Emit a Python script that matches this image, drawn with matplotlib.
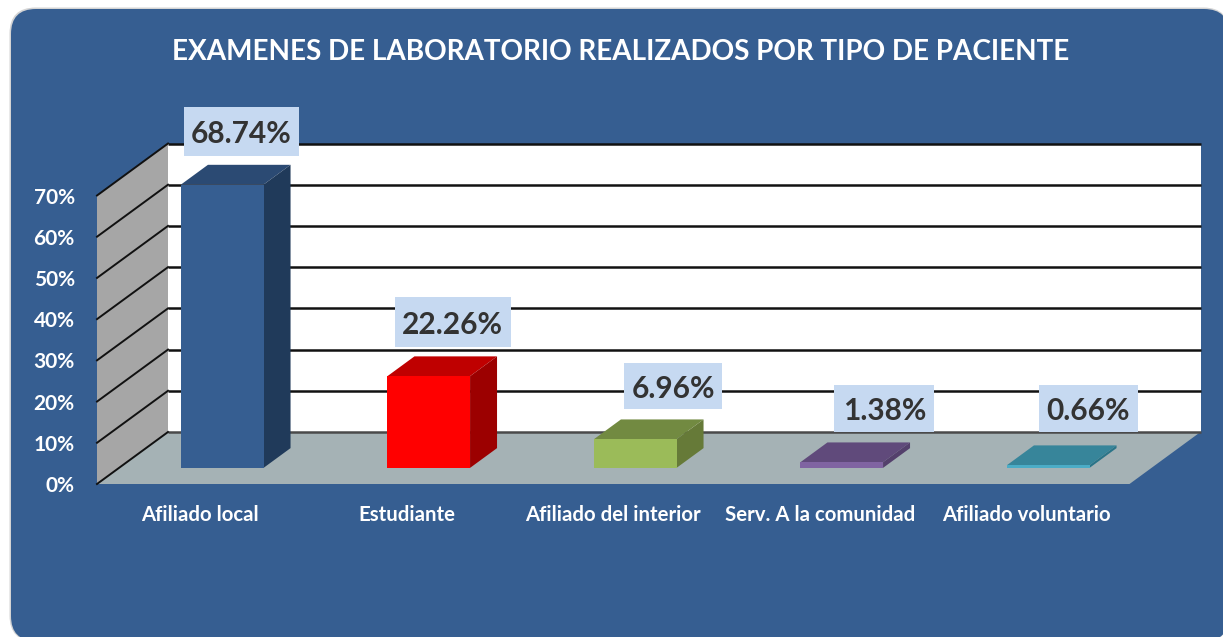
import matplotlib
matplotlib.use("Agg")
import matplotlib.pyplot as plt
from matplotlib.patches import FancyBboxPatch, Polygon, Rectangle
from matplotlib.transforms import IdentityTransform

categories = ["Afiliado local", "Estudiante", "Afiliado del interior",
              "Serv. A la comunidad", "Afiliado voluntario"]
values = [68.74, 22.26, 6.96, 1.38, 0.66]
value_labels = ["68.74%", "22.26%", "6.96%", "1.38%", "0.66%"]
y_ticks = [0, 10, 20, 30, 40, 50, 60, 70]
y_tick_labels = ["0%", "10%", "20%", "30%", "40%", "50%", "60%", "70%"]
title = "EXAMENES DE LABORATORIO REALIZADOS POR TIPO DE PACIENTE"

# style: (front, top, side)
bar_colors = [("#365E91", "#2B4A73", "#203A5A"),
              ("#FF0000", "#BF0000", "#9C0000"),
              ("#9BBB59", "#728A41", "#667A38"),
              ("#8064A2", "#604A7B", "#54406C"),
              ("#4BACC6", "#37859A", "#2A7488")]
label_offsets_px = [(19, 53), (24, 54), (38, 53), (42.5, 54), (40, 57)]
label_box_sizes = [(115, 49), (116, 50), (98, 46), (100, 47), (99, 47)]

W, H = 1223, 637
plt.rcParams["font.family"] = ["Lato", "DejaVu Sans"]
fig = plt.figure(figsize=(W / 100, H / 100), dpi=100, facecolor="white")

# background panel in pixel space
bg = fig.add_axes([0, 0, 1, 1], zorder=0)
bg.set_xlim(0, W); bg.set_ylim(H, 0); bg.axis("off")
bg.add_patch(FancyBboxPatch((9.5 + 26, 7.5 + 26), 1220 - 52, 634 - 52,
                            boxstyle="round,pad=26,rounding_size=26", fc="#D4D4D4", ec="none"))
bg.add_patch(FancyBboxPatch((11 + 25, 9 + 25), 1218 - 50, 632 - 50,
                            boxstyle="round,pad=25,rounding_size=25", fc="#365E91", ec="none"))

# plot axes: front plane of the 3D box
x0, x1, y0, y70 = 97, 1129.5, 484, 195.5
ax = fig.add_axes([x0 / W, 1 - y0 / H, (x1 - x0) / W, (y0 - y70) / H], zorder=1)
ax.set_xlim(0, 5); ax.set_ylim(0, 70)
ax.patch.set_alpha(0)
for s in ax.spines.values():
    s.set_visible(False)

DX = 71 / ((x1 - x0) / 5)          # depth in category units
DY = 52 / ((y0 - y70) / 70)        # depth in percent units
def proj(x, v, d):
    return (x + d * DX, v + d * DY)

kw = dict(clip_on=False, lw=0)
# walls
ax.add_patch(Polygon([proj(0, 0, 1), proj(5, 0, 1), proj(5, 70, 1), proj(0, 70, 1)], fc="white", zorder=1, **kw))
ax.add_patch(Polygon([proj(0, 0, 0), proj(0, 0, 1), proj(0, 70, 1), proj(0, 70, 0)], fc="#A6A6A6", zorder=1, **kw))
ax.add_patch(Polygon([proj(0, 0, 0), proj(5, 0, 0), proj(5, 0, 1), proj(0, 0, 1)], fc="#A5B2B5", zorder=1, **kw))

# gridlines
for t in y_ticks:
    a, b, c = proj(0, t, 0), proj(0, t, 1), proj(5, t, 1)
    col = "#4A4A4A" if t == 0 else "#111111"
    ax.plot([b[0], c[0]], [b[1], c[1]], color=col, lw=1.8, clip_on=False, zorder=2, solid_capstyle="butt")
    ax.plot([a[0], b[0]], [a[1], b[1]], color="#111111", lw=1.4, clip_on=False, zorder=2)

# bars
bw, d0, d1 = 0.4, 0.31, 0.69
for i, (v, cols) in enumerate(zip(values, bar_colors)):
    c = i + 0.5
    l, r = c - bw / 2, c + bw / 2
    ax.add_patch(Polygon([proj(l, v, d0), proj(r, v, d0), proj(r, v, d1), proj(l, v, d1)], fc=cols[1], zorder=3, **kw))
    ax.add_patch(Polygon([proj(r, 0, d0), proj(r, 0, d1), proj(r, v, d1), proj(r, v, d0)], fc=cols[2], zorder=3, **kw))
    ax.add_patch(Polygon([proj(l, 0, d0), proj(r, 0, d0), proj(r, v, d0), proj(l, v, d0)], fc=cols[0], zorder=3, **kw))
    # value label: box sized in display pixels, anchored to the bar's top
    dx, dy = label_offsets_px[i]
    bw_px, bh_px = label_box_sizes[i]
    bx, by = proj(c, v, d0)
    px, py = ax.transData.transform((bx, by))
    ax.add_patch(Rectangle((px + dx - bw_px / 2, py + dy - bh_px / 2), bw_px, bh_px, transform=IdentityTransform(),
                           fc="#C6D9F1", ec="none", zorder=4, clip_on=False))
    ax.annotate(value_labels[i], (bx, by), xytext=(dx * 0.72, dy * 0.72), textcoords="offset points",
                ha="center", va="center_baseline", fontsize=21.5, fontweight="bold", color="#333333", zorder=5,
                annotation_clip=False)

# axes text
ax.set_yticks(y_ticks, y_tick_labels)
ax.set_xticks([i + 0.5 for i in range(len(categories))], categories)
ax.tick_params(axis="y", length=0, pad=16, labelsize=15, labelcolor="white")
ax.tick_params(axis="x", length=0, pad=15, labelsize=14.7, labelcolor="white")
for lab in ax.get_xticklabels() + ax.get_yticklabels():
    lab.set_fontweight("bold")

bg.text(621, 52, title, ha="center", va="center", fontsize=20.1, fontweight="bold", color="white")

fig.savefig("out.png", dpi=100, facecolor="white")
